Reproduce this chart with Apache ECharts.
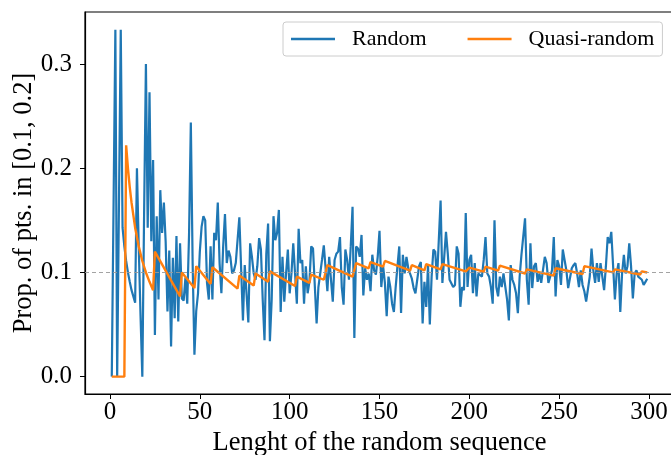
<!DOCTYPE html>
<html>
<head>
<meta charset="utf-8">
<script src="https://cdn.jsdelivr.net/npm/echarts@6/dist/echarts.min.js"></script>
<style>
html,body{margin:0;padding:0;background:#fff;}
#chart{width:671px;height:455px;}
</style>
</head>
<body>
<div id="chart"></div>
<script>
// Random sequence: proportion in [0.1,0.2] for lengths 1..299
const randomVals = [
0,0,0.333,0,0,0.333,0.143,0.125,0.111,0.1,
0.091,0.083,0.077,0.071,0.2,0.125,0.059,0,0.158,0.3,
0.143,0.273,0.13,0.208,0.04,0.154,0.074,0.179,0.138,0.167,
0.129,0.0625,0.121,0.029,0.114,0.056,0.135,0.053,0.128,0.075,
0.073,0.095,0.07,0.136,0.244,0.109,0.021,0.063,0.08,0.12,
0.144,0.154,0.15,0.09,0.074,0.125,0.074,0.138,0.131,0.167,
0.109,0.08,0.125,0.156,0.109,0.121,0.115,0.099,0.102,0.109,
0.131,0.153,0.152,0.054,0.107,0.106,0.052,0.128,0.115,0.099,
0.093,0.106,0.133,0.122,0.074,0.035,0.118,0.147,0.034,0.074,
0.154,0.131,0.138,0.16,0.062,0.115,0.072,0.099,0.122,0.08,
0.099,0.128,0.099,0.07,0.142,0.109,0.112,0.07,0.106,0.08,
0.091,0.125,0.123,0.123,0.051,0.086,0.099,0.112,0.126,0.125,
0.082,0.115,0.093,0.072,0.112,0.118,0.12,0.134,0.086,0.069,
0.122,0.112,0.093,0.125,0.163,0.037,0.125,0.123,0.115,0.136,
0.078,0.104,0.093,0.099,0.082,0.117,0.102,0.098,0.115,0.14,
0.086,0.106,0.09,0.058,0.096,0.086,0.07,0.062,0.086,0.106,
0.125,0.061,0.117,0.099,0.115,0.104,0.099,0.094,0.085,0.08,
0.093,0.106,0.11,0.051,0.091,0.067,0.107,0.05,0.096,0.122,
0.12,0.093,0.131,0.169,0.09,0.091,0.139,0.118,0.093,0.093,
0.086,0.088,0.125,0.118,0.067,0.086,0.083,0.157,0.086,0.112,
0.117,0.08,0.109,0.077,0.099,0.099,0.096,0.112,0.134,0.099,
0.096,0.086,0.07,0.15,0.086,0.077,0.096,0.086,0.099,0.099,
0.074,0.054,0.107,0.093,0.088,0.08,0.061,0.096,0.117,0.118,
0.152,0.093,0.069,0.128,0.085,0.106,0.109,0.091,0.099,0.09,
0.091,0.115,0.109,0.09,0.09,0.102,0.134,0.077,0.112,0.106,
0.088,0.122,0.112,0.102,0.085,0.085,0.104,0.107,0.109,0.099,
0.086,0.102,0.088,0.082,0.072,0.072,0.096,0.123,0.102,0.09,
0.109,0.091,0.109,0.109,0.083,0.106,0.134,0.128,0.139,0.138,
0.074,0.099,0.109,0.062,0.099,0.117,0.099,0.106,0.128,0.106,
0.075,0.099,0.102,0.096,0.096,0.093,0.088,0.091,0.094
];
// Quasi-random sequence: corner points of the sawtooth (length, proportion)
const quasiX = [1,8,9,10,11,12,14,16,18,20,22,24,25,39,40,47,48,56,57,71,72,80,81,88,89,103,104,111,112,119,121,135,137,144,145,152,153,167,168,175,176,184,185,198,200,208,209,216,217,231,232,247,248,263,264,280,281,295,296,299];
const quasiY = [0,0,0.222,0.2,0.182,0.167,0.143,0.125,0.111,0.1,0.091,0.083,0.12,0.077,0.1,0.085,0.106,0.089,0.105,0.0845,0.097,0.0875,0.099,0.091,0.101,0.087,0.096,0.09,0.098,0.093,0.107,0.096,0.109,0.104,0.11,0.1056,0.111,0.1017,0.107,0.102,0.108,0.103,0.108,0.101,0.1046,0.1008,0.1056,0.1017,0.1065,0.099,0.103,0.097,0.104,0.0985,0.106,0.1,0.103,0.098,0.101,0.1];
const xTicks = [0,50,100,150,200,250,300];
const yTicks = [0,0.1,0.2,0.3];
const refLevel = 0.1;

const randomData = randomVals.map((v,i)=>[i+1,v]);
const quasiData = quasiX.map((x,i)=>[x,quasiY[i]]);

const FONT = 'Liberation Serif';
const chart = echarts.init(document.getElementById('chart'), null, {renderer:'canvas'});
chart.setOption({
  animation:false,
  backgroundColor:'#fff',
  grid:{left:85,right:-3,top:12,bottom:61,containLabel:false,outerBoundsMode:'none',
        show:true,borderColor:'#000',borderWidth:1.2,backgroundColor:'transparent'},
  legend:{
    left:283, top:22,
    icon:'rect', itemWidth:44, itemHeight:2.5, itemGap:41,
    padding:[6,8,6,8],
    backgroundColor:'rgba(255,255,255,0.8)', borderColor:'#cccccc', borderWidth:1, borderRadius:3,
    textStyle:{fontFamily:FONT,fontSize:22,color:'#000',padding:[0,0,0,12]},
    data:['Random','Quasi-random']
  },
  xAxis:{
    type:'value', min:-13.9, max:313.9,
    name:'Lenght of the random sequence', nameLocation:'middle', nameGap:36, nameMoveOverlap:false,
    nameTextStyle:{fontFamily:FONT,fontSize:26.5,color:'#000'},
    axisLine:{show:true,onZero:false,lineStyle:{color:'#000',width:1.2}},
    axisTick:{show:true,length:5,lineStyle:{color:'#000',width:1},customValues:xTicks},
    axisLabel:{fontFamily:FONT,fontSize:25,color:'#000',margin:6,customValues:xTicks},
    splitLine:{show:false}
  },
  yAxis:{
    type:'value', min:-0.01667, max:0.35,
    name:'Prop. of pts. in [0.1, 0.2]', nameLocation:'middle', nameGap:47, nameMoveOverlap:false,
    nameTextStyle:{fontFamily:FONT,fontSize:26.5,color:'#000'},
    axisLine:{show:true,onZero:false,lineStyle:{color:'#000',width:1.2}},
    axisTick:{show:true,length:5,lineStyle:{color:'#000',width:1},customValues:yTicks},
    axisLabel:{fontFamily:FONT,fontSize:25,color:'#000',margin:13,customValues:yTicks,formatter:v=>v.toFixed(1)},
    splitLine:{show:false}
  },
  series:[
    {name:'Random',type:'line',data:randomData,showSymbol:false,symbol:'none',
     lineStyle:{color:'#1f77b4',width:2.2},itemStyle:{color:'#1f77b4'},z:2,
     markLine:{silent:true,symbol:['none','none'],label:{show:false},
       lineStyle:{color:'#999999',type:[4,3],width:0.9},data:[{yAxis:refLevel}]}},
    {name:'Quasi-random',type:'line',data:quasiData,showSymbol:false,symbol:'none',
     lineStyle:{color:'#ff7f0e',width:2.4},itemStyle:{color:'#ff7f0e'},z:3}
  ]
});
</script>
</body>
</html>
